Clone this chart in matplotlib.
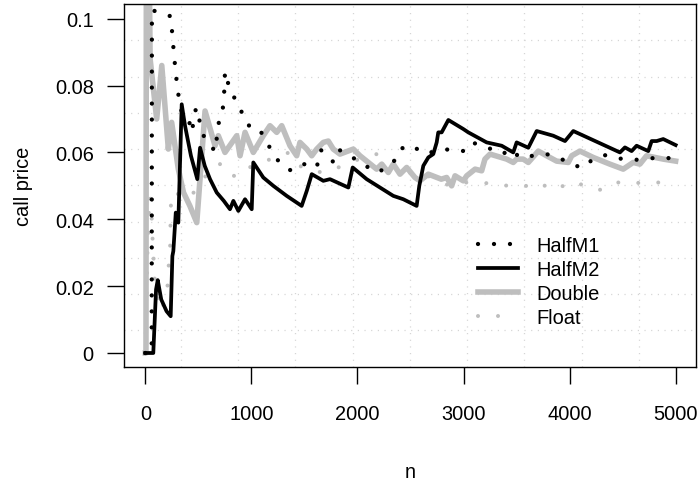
import numpy as np
import matplotlib.pyplot as plt

plt.rcParams['font.family'] = ['Liberation Sans', 'DejaVu Sans']
plt.rcParams['font.size'] = 14.4
plt.rcParams['lines.scale_dashes'] = False

# running estimates (n, call price)
n_m1 = [0, 60, 62, 132, 240, 255, 271, 289, 311, 343, 405, 437, 478, 509, 553, 603, 657,
        698, 730, 745, 751, 798, 883, 952, 1018, 1075, 1163, 1263, 1364, 1427, 1512, 1616,
        1653, 1767, 1814, 1930, 2040, 2181, 2266, 2354, 2401, 2502, 2630, 2872, 3004, 3077,
        3209, 3366, 3454, 3526, 3784, 3947, 4114, 4223, 4340, 4500, 4642, 4789, 5000]
v_m1 = [0, 0, 0.1025, 0.102, 0.1007, 0.095, 0.089, 0.083, 0.0774, 0.072, 0.0704, 0.066,
        0.0734, 0.0697, 0.0647, 0.0627, 0.0603, 0.0702, 0.0729, 0.0787, 0.0842, 0.0786,
        0.074, 0.0687, 0.067, 0.067, 0.062, 0.057, 0.0547, 0.0563, 0.0565, 0.0555, 0.0608,
        0.0573, 0.061, 0.059, 0.0567, 0.054, 0.0552, 0.0577, 0.061, 0.0622, 0.0597, 0.061,
        0.0604, 0.063, 0.0617, 0.0595, 0.061, 0.0585, 0.0595, 0.0577, 0.0553, 0.058, 0.0592,
        0.058, 0.0578, 0.0583, 0.0583]

n_m2 = [0, 75, 101, 117, 150, 200, 239, 255, 264, 287, 311, 343, 374, 430, 490, 516, 560,
        610, 673, 740, 798, 830, 877, 940, 1003, 1018, 1112, 1207, 1333, 1474, 1522, 1569,
        1678, 1741, 1914, 1955, 2087, 2338, 2432, 2558, 2583, 2621, 2668, 2715, 2747, 2762,
        2794, 2857, 2998, 3045, 3218, 3360, 3469, 3501, 3611, 3690, 3846, 3957, 4035, 4475,
        4522, 4585, 4632, 4742, 4774, 4821, 4883, 5000]
v_m2 = [0, 0, 0.019, 0.0218, 0.016, 0.0125, 0.011, 0.029, 0.0305, 0.042, 0.039, 0.0744,
        0.068, 0.059, 0.052, 0.0614, 0.056, 0.052, 0.048, 0.0455, 0.043, 0.0455, 0.0425,
        0.046, 0.043, 0.057, 0.0525, 0.050, 0.047, 0.044, 0.0485, 0.0535, 0.0515, 0.052,
        0.0495, 0.0555, 0.052, 0.047, 0.046, 0.044, 0.050, 0.056, 0.0585, 0.0595, 0.063,
        0.066, 0.066, 0.0697, 0.067, 0.066, 0.063, 0.062, 0.060, 0.063, 0.0614, 0.0664,
        0.065, 0.0634, 0.0664, 0.060, 0.0615, 0.0604, 0.062, 0.0604, 0.0634, 0.0634, 0.064,
        0.0622]

n_dbl = [0, 6, 10, 40, 45, 107, 155, 217, 248, 311, 360, 420, 485, 563, 657, 688, 751, 862,
         893, 940, 1018, 1112, 1175, 1239, 1286, 1364, 1427, 1458, 1522, 1569, 1616, 1678,
         1725, 1772, 1835, 1961, 2024, 2181, 2229, 2291, 2338, 2401, 2464, 2542, 2589, 2668,
         2790, 2841, 2888, 2920, 2998, 3030, 3109, 3171, 3202, 3250, 3407, 3469, 3501, 3563,
         3611, 3705, 3784, 3878, 3988, 4020, 4098, 4223, 4380, 4506, 4600, 4663, 4726, 4883,
         5000]
v_dbl = [0, 0, 0.13, 0.105, 0.088, 0.070, 0.086, 0.061, 0.069, 0.055, 0.048, 0.044, 0.039,
         0.0724, 0.062, 0.065, 0.060, 0.065, 0.059, 0.066, 0.060, 0.065, 0.068, 0.066, 0.068,
         0.062, 0.059, 0.063, 0.061, 0.059, 0.061, 0.063, 0.0634, 0.061, 0.0595, 0.061,
         0.059, 0.055, 0.0565, 0.054, 0.0565, 0.0535, 0.0555, 0.0525, 0.0515, 0.0535, 0.052,
         0.0525, 0.050, 0.053, 0.0515, 0.053, 0.055, 0.0545, 0.058, 0.0595, 0.058, 0.057,
         0.058, 0.058, 0.057, 0.0604, 0.059, 0.0574, 0.057, 0.059, 0.0604, 0.0585, 0.0565,
         0.055, 0.057, 0.0565, 0.059, 0.058, 0.0574]

n_flt = [0, 20, 40, 55, 65, 75, 85, 95, 155, 207, 217, 233, 239, 245, 280, 405, 468, 626,
         704, 782, 893, 940, 1301, 1364, 1474, 1663, 1757, 1914, 2181, 2276, 2417, 2511,
         2589, 2872, 2998, 3124, 3265, 3422, 3563, 3711, 3830, 4003, 4113, 4285, 4396, 4522,
         4679, 4836, 5000]
v_flt = [0, 0.03, 0.047, 0.045, 0.036, 0.030, 0.024, 0.018, 0.0125, 0.019, 0.025, 0.0305,
         0.042, 0.048, 0.048, 0.046, 0.0485, 0.0555, 0.0565, 0.053, 0.053, 0.055, 0.0595,
         0.060, 0.0555, 0.054, 0.0545, 0.057, 0.0595, 0.0593, 0.056, 0.0535, 0.054, 0.050,
         0.051, 0.051, 0.0507, 0.050, 0.0502, 0.049, 0.0513, 0.049, 0.0505, 0.0488, 0.0508,
         0.0512, 0.0508, 0.051, 0.0508]

yticks = [0, 0.02, 0.04, 0.06, 0.08, 0.1]
ylabels = ['0', '0.02', '0.04', '0.06', '0.08', '0.1']
xticks = [0, 1000, 2000, 3000, 4000, 5000]

fig = plt.figure(figsize=(6.99, 4.89), dpi=100)
ax = fig.add_axes([123.7 / 699, (489 - 367.7) / 489, (696 - 123.7) / 699, (367.7 - 5) / 489])
xlim = (-204, 5192)
ylim = (-0.0041, 0.1044)
ax.set_xlim(xlim)
ax.set_ylim(ylim)

# grid like R's grid(10, 10): equal divisions of the plot region
for k in range(1, 10):
    ax.axvline(xlim[0] + k / 10 * (xlim[1] - xlim[0]), color='#D3D3D3', lw=0.9,
               linestyle=(0, (0.8, 4.0)), zorder=0)
    ax.axhline(ylim[0] + k / 10 * (ylim[1] - ylim[0]), color='#D3D3D3', lw=0.9,
               linestyle=(0, (0.8, 4.0)), zorder=0)

gray = '#BEBEBE'
ax.plot(n_dbl, v_dbl, color=gray, lw=4.0, solid_joinstyle='round', label='Double', zorder=2)
ax.plot(n_flt, v_flt, color=gray, lw=2.9, linestyle=(0, (0.01, 14.4)),
        dash_capstyle='round', label='Float', zorder=2)
ax.plot(n_m1, v_m1, color='black', lw=3.1, linestyle=(0, (0.01, 11.5)),
        dash_capstyle='round', label='HalfM1', zorder=3)
ax.plot(n_m2, v_m2, color='black', lw=2.7, solid_joinstyle='round', label='HalfM2', zorder=3)

ax.set_xticks(xticks)
ax.set_xticklabels([str(t) for t in xticks])
ax.set_yticks(yticks)
ax.set_yticklabels(ylabels)
ax.tick_params(length=12.5, width=1.0, direction='out')
ax.tick_params(axis='x', pad=14)
ax.tick_params(axis='y', pad=9)
for s in ax.spines.values():
    s.set_linewidth(1.0)

ax.set_ylabel('call price')
ax.yaxis.set_label_coords(-0.158, 0.5)
ax.set_xlabel('n')
ax.xaxis.set_label_coords(0.5, -0.262)

h, l = ax.get_legend_handles_labels()
order = [2, 3, 0, 1]
ax.legend([h[i] for i in order], [l[i] for i in order], loc='upper left',
          bbox_to_anchor=(0.619, 0.361), frameon=False, borderpad=0, borderaxespad=0,
          handlelength=2.0, handletextpad=0.9, labelspacing=0.25)

fig.savefig('out.png', dpi=100)
